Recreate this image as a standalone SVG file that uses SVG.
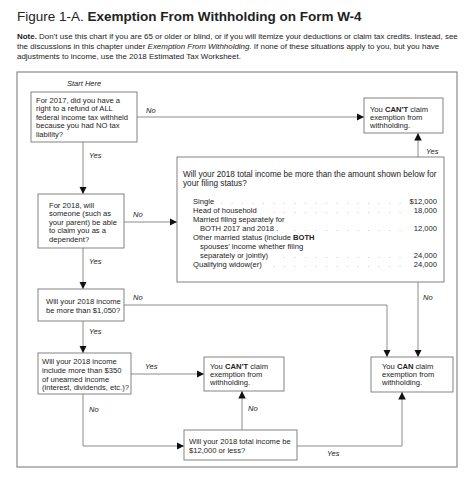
<svg xmlns="http://www.w3.org/2000/svg" width="474" height="483" viewBox="0 0 474 483">
<style>
text{font-family:"Liberation Sans",Arial,Helvetica,sans-serif;fill:#222;}
.t{font-size:7.6px;}
.h{font-size:8.2px;}
.n{font-size:7.95px;}
.lb{font-size:7.5px;font-style:italic;}
.b{font-weight:bold;}
.box{fill:#fff;stroke:#777;stroke-width:0.9;}
.frame{fill:none;stroke:#8a8a8a;stroke-width:1.2;}
.c{fill:none;stroke:#808080;stroke-width:0.9;}
.dots{font-size:7px;fill:#999;}
</style>
<defs>
<marker id="ah" viewBox="0 0 10 10" refX="10" refY="5" markerWidth="7.5" markerHeight="7.5" markerUnits="userSpaceOnUse" orient="auto">
<path d="M0,0 L10,5 L0,10 z" fill="#111"/>
</marker>
</defs>
<rect width="474" height="483" fill="#fff"/>
<g id="title">
<text x="17" y="21" font-size="13.5">Figure 1-A. <tspan class="b">Exemption From Withholding on Form W-4</tspan></text>
<text class="n" x="17" y="38.5"><tspan class="b">Note.</tspan> Don’t use this chart if you are 65 or older or blind, or if you will itemize your deductions or claim tax credits. Instead, see</text>
<text class="n" x="17" y="48.5">the discussions in this chapter under <tspan font-style="italic">Exemption From Withholding.</tspan> If none of these situations apply to you, but you have</text>
<text class="n" x="17" y="58.5">adjustments to income, use the 2018 Estimated Tax Worksheet.</text>
</g>
<rect class="frame" x="17" y="72" width="440" height="395"/>
<g id="connectors">
<path class="c" d="M137,117 H364" marker-end="url(#ah)"/>
<path class="c" d="M418,157 V133" marker-end="url(#ah)"/>
<path class="c" d="M83,142 V194" marker-end="url(#ah)"/>
<path class="c" d="M124,222 H177" marker-end="url(#ah)"/>
<path class="c" d="M83,248 V289" marker-end="url(#ah)"/>
<path class="c" d="M124,305 H387 V357" marker-end="url(#ah)"/>
<path class="c" d="M418,282 V357" marker-end="url(#ah)"/>
<path class="c" d="M83,321 V353" marker-end="url(#ah)"/>
<path class="c" d="M131,374 H204" marker-end="url(#ah)"/>
<path class="c" d="M83,394 V446 H184" marker-end="url(#ah)"/>
<path class="c" d="M242,430 V391" marker-end="url(#ah)"/>
<path class="c" d="M297,446 H402 V392" marker-end="url(#ah)"/>
<text class="lb" x="67" y="86">Start Here</text>
<text class="lb" x="146" y="113">No</text>
<text class="lb" x="426" y="154">Yes</text>
<text class="lb" x="89" y="157.5">Yes</text>
<text class="lb" x="133" y="217">No</text>
<text class="lb" x="89" y="264">Yes</text>
<text class="lb" x="133" y="300">No</text>
<text class="lb" x="423" y="300">No</text>
<text class="lb" x="89" y="334">Yes</text>
<text class="lb" x="145" y="369">Yes</text>
<text class="lb" x="89" y="412">No</text>
<text class="lb" x="248" y="411">No</text>
<text class="lb" x="327" y="456">Yes</text>
</g>
<g id="q1">
<rect class="box" x="31" y="92" width="106" height="50"/>
<text class="t" x="36" y="102.5">For 2017, did you have a</text>
<text class="t" x="36" y="111">right to a refund of ALL</text>
<text class="t" x="36" y="119.5">federal income tax withheld</text>
<text class="t" x="36" y="128">because you had NO tax</text>
<text class="t" x="36" y="136.5">liability?</text>
</g>
<g id="cant1">
<rect class="box" x="364" y="98" width="79" height="35"/>
<text class="t" x="370" y="111.5">You <tspan class="b">CAN’T</tspan> claim</text>
<text class="t" x="370" y="119.5">exemption from</text>
<text class="t" x="370" y="128">withholding.</text>
</g>
<g id="q-income">
<rect class="box" x="177" y="157" width="267" height="125"/>
<text class="h" x="183" y="177">Will your 2018 total income be more than the amount shown below for</text>
<text class="h" x="183" y="186">your filing status?</text>
<text class="t" x="193" y="203.5">Single</text>
<text class="t" x="193" y="212.5">Head of household</text>
<text class="t" x="193" y="221.5">Married filing separately for</text>
<text class="t" x="200" y="230.5">BOTH 2017 and 2018 .</text>
<text class="t" x="193" y="239.5">Other married status (include <tspan class="b">BOTH</tspan></text>
<text class="t" x="200" y="248.5">spouses’ income whether filing</text>
<text class="t" x="200" y="257.5">separately or jointly)</text>
<text class="t" x="193" y="266.5">Qualifying widow(er)</text>
<text class="dots" x="220.5 231 241.5 252 262.5 273 283.5 294 304.5 315 325.5 336 346.5 357 367.5 378 388.5 399" y="203.5">..................</text>
<text class="dots" x="273 283.5 294 304.5 315 325.5 336 346.5 357 367.5 378 388.5 399" y="212.5">.............</text>
<text class="dots" x="294 304.5 315 325.5 336 346.5 357 367.5 378 388.5 399" y="230.5">...........</text>
<text class="dots" x="283.5 294 304.5 315 325.5 336 346.5 357 367.5 378 388.5 399" y="257.5">............</text>
<text class="dots" x="273 283.5 294 304.5 315 325.5 336 346.5 357 367.5 378 388.5 399" y="266.5">.............</text>
<text class="t" x="437" y="203.5" text-anchor="end">$12,000</text>
<text class="t" x="437" y="212.5" text-anchor="end">18,000</text>
<text class="t" x="437" y="230.5" text-anchor="end">12,000</text>
<text class="t" x="437" y="257.5" text-anchor="end">24,000</text>
<text class="t" x="437" y="266.5" text-anchor="end">24,000</text>
</g>
<g id="q2">
<rect class="box" x="38" y="194" width="86" height="54"/>
<text class="t" x="49" y="207.5">For 2018, will</text>
<text class="t" x="49" y="216">someone (such as</text>
<text class="t" x="49" y="224.5">your parent) be able</text>
<text class="t" x="49" y="233">to claim you as a</text>
<text class="t" x="49" y="241.5">dependent?</text>
</g>
<g id="q3">
<rect class="box" x="38" y="289" width="86" height="32"/>
<text class="t" x="46" y="304">Will your 2018 income</text>
<text class="t" x="46" y="312.5">be more than $1,050?</text>
</g>
<g id="q4">
<rect class="box" x="38" y="353" width="93" height="41"/>
<text class="t" x="42" y="363.5">Will your 2018 income</text>
<text class="t" x="42" y="372.5">include more than $350</text>
<text class="t" x="42" y="381.5">of unearned income</text>
<text class="t" x="42" y="390">(interest, dividends, etc.)?</text>
</g>
<g id="cant2">
<rect class="box" x="204" y="357" width="80" height="34"/>
<text class="t" x="210" y="368.5">You <tspan class="b">CAN’T</tspan> claim</text>
<text class="t" x="210" y="376.5">exemption from</text>
<text class="t" x="210" y="384.5">withholding.</text>
</g>
<g id="can">
<rect class="box" x="371" y="357" width="82" height="35"/>
<text class="t" x="382" y="368.5">You <tspan class="b">CAN</tspan> claim</text>
<text class="t" x="382" y="376.5">exemption from</text>
<text class="t" x="382" y="384.5">withholding.</text>
</g>
<g id="q5">
<rect class="box" x="184" y="430" width="113" height="30"/>
<text class="t" x="189" y="444">Will your 2018 total income be</text>
<text class="t" x="189" y="453">$12,000 or less?</text>
</g>
</svg>
